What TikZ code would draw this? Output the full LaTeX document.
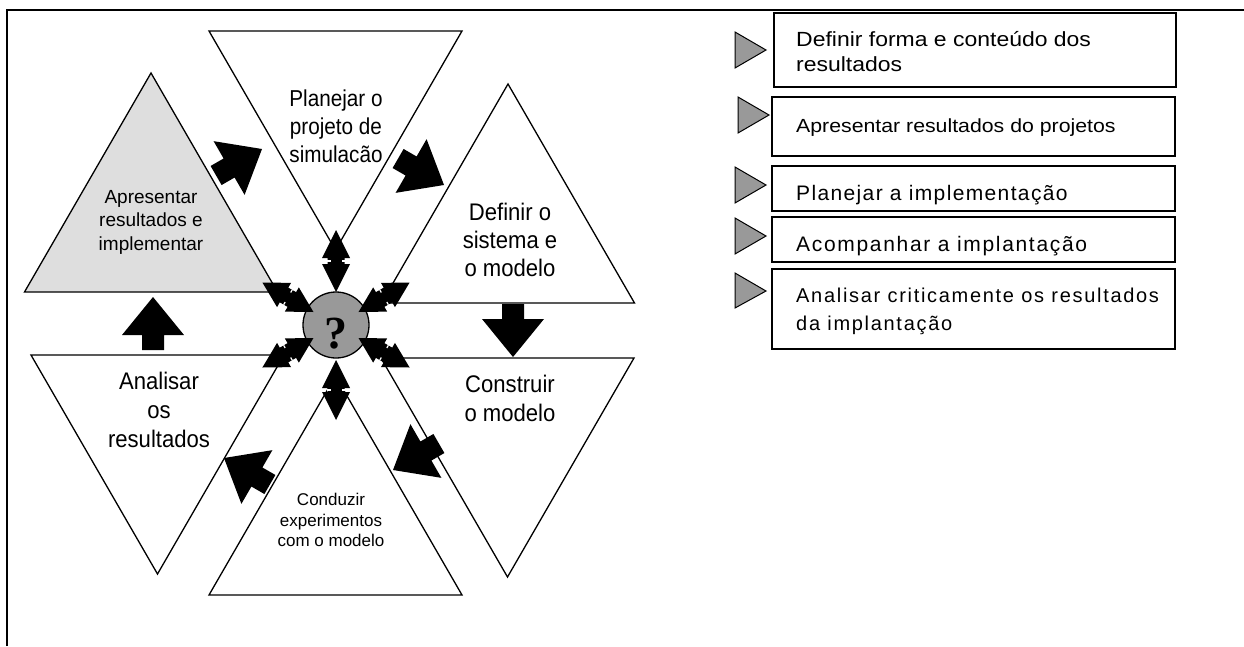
\documentclass[tikz,border=0pt]{standalone}
\usepackage{fontspec}
\setmainfont{Liberation Sans}
\newfontfamily\qfont{Liberation Serif}
\newfontfamily\trifont[FakeStretch=0.92]{Liberation Sans}
\newfontfamily\trifontn[FakeStretch=0.9]{Liberation Sans}
\newfontfamily\legwide[FakeStretch=1.12]{Liberation Sans}
\newfontfamily\legspaced[LetterSpace=6.5]{Liberation Sans}
\newfontfamily\legspacedc[LetterSpace=8]{Liberation Sans}
\newfontfamily\legspacedb[LetterSpace=8.5]{Liberation Sans}

% block arrow: tip at #1, pointing towards visual angle #2
\newcommand\blockarrow[2]{%
  \begin{scope}[shift={(#1)}, rotate=#2]
    \fill[black] (0,0) -- (-38,31) -- (-38,11) -- (-53,11) -- (-53,-11)
      -- (-38,-11) -- (-38,-31) -- cycle;
  \end{scope}}

% double-headed radial arrow around the hub: angle, inner radius, outer radius, head length
\newcommand\radialarrow[4]{%
  \begin{scope}[shift={(336,325)}, rotate=#1]
    \fill[black] (#2,0) -- (#2+#4,14) -- (#2+#4,8.5) -- (#3-#4,8.5)
      -- (#3-#4,14) -- (#3,0) -- (#3-#4,-14) -- (#3-#4,-8.5)
      -- (#2+#4,-8.5) -- (#2+#4,-14) -- cycle;
    \draw[white, line width=1.2pt] ({(#2+#3)/2},8.6) -- ({(#2+#3)/2},5.5)
      ({(#2+#3)/2},-8.6) -- ({(#2+#3)/2},-5.5);
  \end{scope}}

\tikzset{
  tri/.style={draw=black, line width=1.3pt, fill=white, line join=miter},
  bigtext/.style={align=center, inner sep=0pt, font=\trifont\fontsize{24}{28}\selectfont},
  legbox/.style={draw=black, line width=1.3pt, fill=white},
  legmark/.style={draw=black, line width=1pt, fill=black!40, line join=miter},
}

\begin{document}
\begin{tikzpicture}[x=1pt, y=-1pt]
  \useasboundingbox (0,0) rectangle (1244,646);
  \fill[white] (0,0) rectangle (1244,646);

  % outer frame
  \draw[line width=1.5pt] (7,646) -- (7,10) -- (1244,10);

  % the six phase triangles
  \draw[tri] (209,31) -- (462,31) -- (335.5,250) -- cycle;
  \draw[tri, fill=black!13] (151,73) -- (277.5,292) -- (24.5,292) -- cycle;
  \draw[tri] (508,84) -- (634.5,303) -- (381.5,303) -- cycle;
  \draw[tri] (31,355) -- (284,355) -- (157.5,574) -- cycle;
  \draw[tri] (381,358) -- (634,358) -- (507.5,577) -- cycle;
  \draw[tri] (335.5,376) -- (462,595) -- (209,595) -- cycle;

  % phase labels
  \node[bigtext, font=\trifontn\fontsize{23}{28}\selectfont] (plan) at (336,126) {Planejar o\\projeto de\\simulacão};
  \node[bigtext, font=\fontsize{19}{23.5}\selectfont] (apres) at (151,222) {Apresentar\\resultados e\\implementar};
  \node[bigtext] (defin) at (510,240) {Definir o\\sistema e\\o modelo};
  \node[bigtext, font=\trifont\fontsize{24}{29}\selectfont] (anal) at (159,410) {Analisar\\os\\resultados};
  \node[bigtext, font=\trifont\fontsize{24}{29}\selectfont] (constr) at (510,398) {Construir\\o modelo};
  \node[bigtext, font=\fontsize{17}{20.5}\selectfont] (cond) at (331,520) {Conduzir\\experimentos\\com o modelo};

  % cycle arrows between phases
  \blockarrow{262,149}{30}
  \blockarrow{444,185}{-30}
  \blockarrow{513,357}{-90}
  \blockarrow{393,470}{210}
  \blockarrow{224,458}{150}
  \blockarrow{153,297}{90}

  % central hub
  \node[circle, draw=black, line width=1.3pt, fill=black!40, minimum size=66pt, inner sep=0pt] (hub) at (336,325) {};
  \node[inner sep=0pt, font=\qfont\bfseries\fontsize{46}{46}\selectfont] (qmark) at (336,334) {?};

  \radialarrow{90}{33}{95}{28}
  \radialarrow{-90}{35}{95}{28}
  \radialarrow{30}{26}{85}{25}
  \radialarrow{150}{26}{85}{25}
  \radialarrow{210}{26}{85}{25}
  \radialarrow{330}{26}{85}{25}

  % activity list
  \draw[legbox] (774,13) rectangle (1176,87);
  \draw[legbox] (772,97) rectangle (1175,156);
  \draw[legbox] (772,166) rectangle (1175,211);
  \draw[legbox] (772,217) rectangle (1175,262);
  \draw[legbox] (772,269) rectangle (1175,349);

  \draw[legmark] (735,32) -- (766,50) -- (735,68) -- cycle;
  \draw[legmark] (738,97) -- (769,115) -- (738,133) -- cycle;
  \draw[legmark] (735,167) -- (766,185) -- (735,203) -- cycle;
  \draw[legmark] (735,218) -- (766,236) -- (735,254) -- cycle;
  \draw[legmark] (735,273) -- (766,291) -- (735,308) -- cycle;

  \node[anchor=west, align=left, inner sep=0pt, font=\legwide\fontsize{20.5}{25}\selectfont] (l1) at (796,52) {Definir forma e conteúdo dos\\resultados};
  \node[anchor=base west, inner sep=0pt, font=\legwide\fontsize{19}{25}\selectfont] (l2) at (796,132) {Apresentar resultados do projetos};
  \begin{scope}
    \clip (772,166) rectangle (1175,204.5);
    \node[anchor=base west, inner sep=0pt, font=\legspaced\fontsize{21}{25}\selectfont] (l3) at (796,200) {Planejar a implementação};
  \end{scope}
  \begin{scope}
    \clip (772,217) rectangle (1175,255.5);
    \node[anchor=base west, inner sep=0pt, font=\legspacedc\fontsize{21}{25}\selectfont] (l4) at (796,251) {Acompanhar a implantação};
  \end{scope}
  \node[anchor=west, align=left, inner sep=0pt, font=\legspacedb\fontsize{20}{28}\selectfont] (l5) at (796,311) {Analisar criticamente os resultados\\da implantação};
\end{tikzpicture}
\end{document}
